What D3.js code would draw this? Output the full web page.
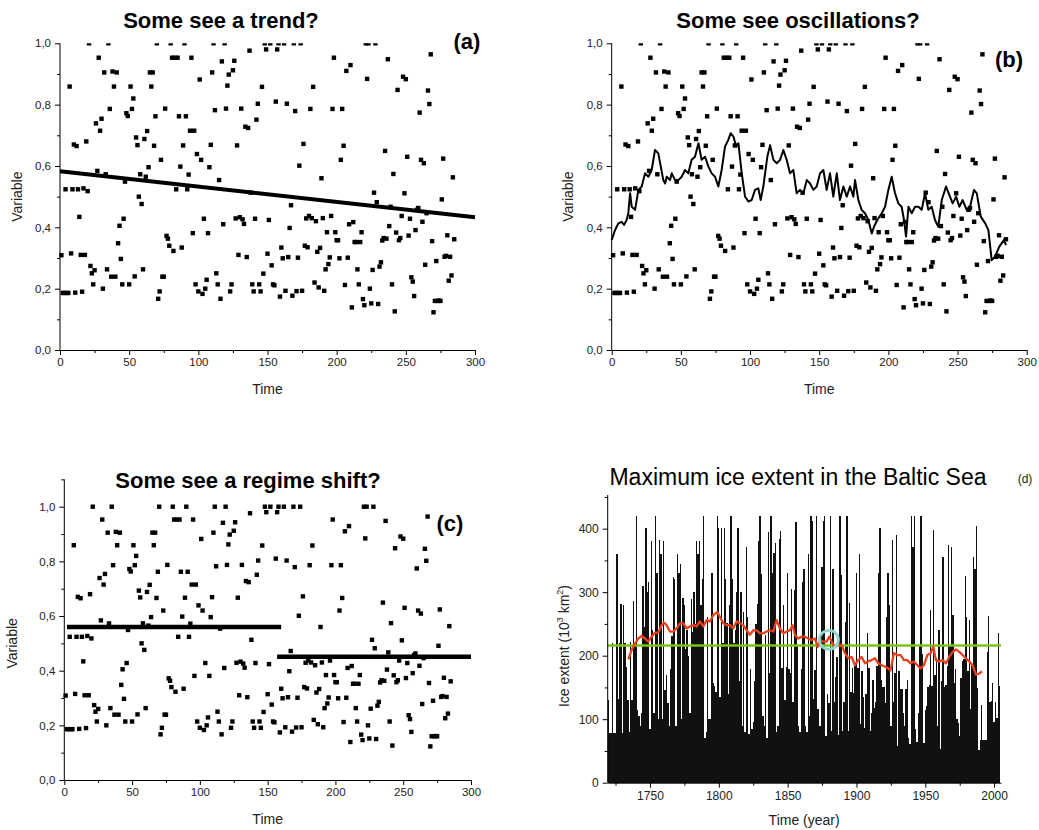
<!DOCTYPE html>
<meta charset="utf-8">
<html>
<head>
<script src="https://d3js.org/d3.v7.min.js"></script>
<style>
  body { margin: 0; background: #fff; }
  text { font-family: "Liberation Sans", Arial, sans-serif; }
</style>
</head>
<body>
<script>
// Normalised series (time step 1..285).
// The same record is the Baltic ice extent (d), scaled by its cap of 420.
var values = [
  .309,.186,.186,.524,.186,.186,.859,.315,.524,.67, .187,.665,.524,.434,.31, .19, .527,.31, .68, .518,
  1.0, .274,.25, .214,.26, .739,.584,.953,.715,.754,.2,  .905,.573,.263,1.0, .786,.239,.908,.859,.239,
  .905,.348,.405,.297,.214,.428,.549,.772,.763,.214,.859,.786,.82, .24, .693,.668,.5,  .573,.476,.263,
  .688,.565,.714,.596,.905,.859,.905,.666,.762,1.0, .167,.191,.62, .239,.239,.787,.372,.363,.34, 1.0,
  .953,.323,.953,.524,.953,.762,.598,.334,.667,1.0, .762,.524,.572,.715,.953,.381,.715,.214,.639,.191,
  .882,.62, .183,.428,.2,  .229,.381,.596,.669,.905,1.0, .782,.25, .214,.554,.167,.941,.41, 1.0, .787,
  .862,.898,.191,.214,.912,.943,.429,.667,.31, .433,.787,.426,.411,.728,.303,.724,.976,.513,.214,.191,
  .428,.751,.803,.214,.191,.858,.249,1.0, .98, .314,.424,1.0, .276,.214,.211,.81, .98, 1.0, .174,.334,
  .299,1.0, .193,.803,.303,.398,.472,.177,1.0, .779,.192,.301,.601,1.0, .193,.672,.34, .429,.335,.437,
  .786,.43, .858,.22, .42, .32, .204,.333,.56, .43, .193,.263,.384,.28, .302,.437,.786,.953,.384,.358,
  .358,.299,.62, .786,.666,.212,.91, .301,.41, .929,.139,.417,.352,.352,.263,.214,.352,.384,.166,.146,
  1.0, .884,1.0, .2,  .152,.261,.513,1.0, .482,.15, .272,.286,.357,.365,.649,.363,.948,.404,.467,.214,
  .574,.126,.383,.848,.358,.365,.437,.891,.511,.883,.63, .373,.428,.237,.223,.176,.391,.457,.463,.774,
  .62, .418,.609,.278,.446,.846,.802,.964,.355,.123,.16, .29, .16, .161,.16, .491,.624,.304,.307,.374,
  .226,.304,.243,.563,.361
];
var firstYear = 1720;
var iceCap = 420;

// (a) linear trend end points
var trendT = [0, 300];
var trendV = [0.583, 0.433];

// (b) smoothed curve
var smoothT = [0,2.4,3.6,4.8,7.2,8.9,10.8,12,13.3,14.5,16.9,19.3,21.7,24.1,26.5,28.9,31.3,33.7,37.3,38.6,
  39.8,42.2,43.4,45.8,48.2,50.6,53,55.4,57.8,60.2,62.7,65,67.5,69.9,72.3,74.7,77.1,79.5,81.9,84.3,
  86,88,90,91.6,94,96.4,98.8,101.2,103.6,106,107.7,109.6,112.5,114.5,116.9,119.3,121.7,124.1,126.5,128.9,
  131.3,133.7,136.1,138.6,141,143.4,145.8,148.2,150.6,153,155.4,157.8,160.2,162.7,165,167.5,169.9,172.3,174.7,175.9,
  178.3,180.7,183.1,185.5,188,189.6,192,195.2,197.6,200,202.4,204.8,207.2,209.6,211.3,212.8,214.5,216.9,219.3,221.7,
  224.1,226.5,228.9,231.3,233.7,236.1,238.6,241.7,244.1,246.5,249,251.3,253.7,256.6,259,261.9,263.9,266.8,270,272.3,
  274.7,277.1,280.2,283.6,285];
var smoothV = [.359,.391,.402,.413,.418,.408,.424,.446,.511,.467,.457,.522,.533,.576,.565,.587,.652,.641,.554,.543,
  .565,.554,.576,.554,.554,.565,.587,.576,.62,.63,.674,.62,.63,.598,.576,.565,.533,.587,.663,.685,
  .707,.696,.663,.674,.576,.5,.484,.489,.522,.527,.489,.533,.63,.668,.62,.609,.62,.652,.62,.576,
  .587,.511,.522,.511,.554,.543,.522,.533,.576,.587,.522,.576,.5,.576,.489,.533,.5,.533,.5,.554,
  .489,.457,.446,.424,.38,.402,.424,.446,.467,.522,.565,.511,.478,.467,.424,.37,.467,.446,.467,.467,
  .457,.511,.457,.467,.424,.402,.489,.533,.505,.478,.5,.467,.489,.457,.467,.522,.511,.435,.413,.391,
  .293,.304,.337,.359,.342];

// (c) regime means
var regimeT = [[2, 160], [157, 300]];
var regimeV = [0.56, 0.451];

// (d) 30-year running mean and long-term mean
var runYears = [1734.3,1736.7,1739.1,1741.5,1744,1746.4,1748.8,1751.2,1753.6,1756,1758.5,1760.2,1762.1,1764.5,1766.9,1769.4,1771.8,1774.2,1776.6,1779.1,
  1781.5,1783.9,1786.3,1788.7,1791.2,1793.6,1796,1798.9,1800.8,1803.3,1805.7,1808.1,1810.5,1812.9,1815.4,1817.8,1820.2,1822.6,1825.1,1827.5,
  1829.9,1832.3,1834.7,1837.2,1839.6,1842,1844.4,1846.9,1849.3,1851.7,1853.6,1855.3,1857.7,1860.2,1862.6,1865,1867.4,1869.9,1871.8,1873.5,
  1875.9,1878.3,1880.3,1882,1883.9,1886.8,1889.2,1891.6,1894.1,1896.5,1898.9,1901.3,1903.8,1906.2,1908.6,1911,1913.4,1915.9,1918.3,1920.7,
  1923.1,1924.8,1927.2,1929.7,1932.1,1934.5,1936.9,1939.3,1941.8,1944.2,1946.6,1949,1951.5,1953.9,1955.8,1957.7,1960.2,1962.6,1965,1967.4,
  1969.9,1972.3,1974.7,1977.1,1979.5,1982,1984.4,1986.8,1989.2,1991.2];
var runValues = [194,209,219,227,231,227,222,230,236,236,248,252,248,238,238,243,251,251,243,246,
  248,246,254,246,256,254,264,269,261,251,248,248,243,254,251,248,240,233,240,240,
  235,235,238,240,238,256,243,235,238,240,248,233,227,230,230,227,225,227,214,225,
  222,222,230,222,214,217,217,204,196,198,185,193,198,188,191,193,196,188,185,183,
  180,177,204,201,201,193,193,188,191,185,180,185,201,204,214,193,191,193,188,198,
  206,210,206,201,196,191,185,170,172,175];
var meanIce = 216;
var markYear = 1880, markValue = 225;

var width = 1039, height = 830;
var svg = d3.select("body").append("svg")
    .attr("width", width)
    .attr("height", height);

function commaFmt(d) { return d3.format(".1f")(d).replace(".", ","); }

var points = values.map(function(v, i) { return {t: i + 1, v: v}; });

// scatter panels a, b, c
function scatterPanel(p) {
    var x = d3.scaleLinear().domain([0, 300]).range([p.left, p.right]);
    var y = d3.scaleLinear().domain([0, 1]).range([p.bottom, p.top1]);
    var g = svg.append("g");

    var clipId = "clip" + p.id;
    svg.append("clipPath").attr("id", clipId)
      .append("rect")
        .attr("x", p.left - 4).attr("y", y(p.yMax))
        .attr("width", p.right - p.left + 8).attr("height", p.bottom - y(p.yMax) + 4);

    var majorY = [0, 0.2, 0.4, 0.6, 0.8, 1.0];
    var minorY = p.yMax > 1 ? [0.1, 0.3, 0.5, 0.7, 0.9, 1.1] : [0.1, 0.3, 0.5, 0.7, 0.9];

    var ya = g.append("g")
        .attr("transform", "translate(" + p.left + ",0)")
        .call(d3.axisLeft(y).tickValues(majorY).tickSize(5).tickSizeOuter(0).tickPadding(4).tickFormat(commaFmt));
    ya.select(".domain").attr("d", "M0," + p.bottom + "V" + y(p.yMax));
    g.append("g")
        .attr("transform", "translate(" + p.left + ",0)")
        .call(d3.axisLeft(y).tickValues(minorY).tickSize(3).tickFormat(""))
        .select(".domain").remove();

    g.append("g")
        .attr("transform", "translate(0," + p.bottom + ")")
        .call(d3.axisBottom(x).tickValues(d3.range(0, 301, 50)).tickSize(5).tickSizeOuter(0).tickPadding(3));
    g.append("g")
        .attr("transform", "translate(0," + p.bottom + ")")
        .call(d3.axisBottom(x).tickValues(d3.range(25, 300, 50)).tickSize(3).tickFormat(""))
        .select(".domain").remove();

    g.selectAll(".tick text").attr("font-size", 11.5).attr("fill", "#222")
        .style("font-family", "'Liberation Sans', Arial, sans-serif");

    var plot = g.append("g").attr("clip-path", "url(#" + clipId + ")");
    plot.selectAll("rect.pt")
        .data(points)
        .join("rect")
          .attr("class", "pt")
          .attr("x", function(d) { return x(d.t) - 2.2; })
          .attr("y", function(d) { return y(d.v) - 2.2; })
          .attr("width", 4.4)
          .attr("height", 4.4)
          .attr("fill", "#000");

    g.append("text")
        .attr("x", p.titleX).attr("y", p.titleY)
        .attr("text-anchor", "middle")
        .attr("font-size", 22).attr("font-weight", "bold")
        .text(p.title);
    g.append("text")
        .attr("x", p.tagX).attr("y", p.tagY)
        .attr("text-anchor", "middle")
        .attr("font-size", 22).attr("font-weight", "bold")
        .text(p.tag);
    g.append("text")
        .attr("transform", "translate(" + p.ylabX + "," + (p.bottom + y(1)) / 2 + ") rotate(-90)")
        .attr("text-anchor", "middle")
        .attr("font-size", 14).attr("fill", "#222")
        .text("Variable");
    g.append("text")
        .attr("x", (p.left + p.right) / 2).attr("y", p.xlabY)
        .attr("text-anchor", "middle")
        .attr("font-size", 14).attr("fill", "#222")
        .text("Time");

    return {g: plot, x: x, y: y};
}

var pa = scatterPanel({id: "a", left: 60, right: 475, bottom: 350, top1: 43.3, yMax: 1,
    title: "Some see a trend?", titleX: 221, titleY: 28, tag: "(a)", tagX: 467, tagY: 49,
    ylabX: 22, xlabY: 394});
pa.g.append("line")
    .attr("x1", pa.x(trendT[0])).attr("y1", pa.y(trendV[0]))
    .attr("x2", pa.x(trendT[1])).attr("y2", pa.y(trendV[1]))
    .attr("stroke", "#000").attr("stroke-width", 4);

var pb = scatterPanel({id: "b", left: 611.7, right: 1026.7, bottom: 350, top1: 43.3, yMax: 1,
    title: "Some see oscillations?", titleX: 798, titleY: 28, tag: "(b)", tagX: 1009, tagY: 67,
    ylabX: 573, xlabY: 394});
pb.g.append("path")
    .datum(d3.range(smoothT.length))
    .attr("fill", "none")
    .attr("stroke", "#000")
    .attr("stroke-width", 2)
    .attr("stroke-linejoin", "round")
    .attr("d", d3.line()
        .x(function(i) { return pb.x(smoothT[i]); })
        .y(function(i) { return pb.y(smoothV[i]); }));

var pc = scatterPanel({id: "c", left: 64.3, right: 471, bottom: 780, top1: 506.7, yMax: 1.1,
    title: "Some see a regime shift?", titleX: 248, titleY: 488, tag: "(c)", tagX: 450, tagY: 531,
    ylabX: 17, xlabY: 824});
regimeT.forEach(function(seg, i) {
    pc.g.append("line")
        .attr("x1", pc.x(seg[0])).attr("y1", pc.y(regimeV[i]))
        .attr("x2", pc.x(seg[1])).attr("y2", pc.y(regimeV[i]))
        .attr("stroke", "#000").attr("stroke-width", 4.5);
});

// panel d: ice extent bars
var xd = d3.scaleLinear().domain([1719.3, 2005]).range([607.7, 1001]);
var yd = d3.scaleLinear().domain([0, 453]).range([782.7, 495]);
var gd = svg.append("g");

var step = xd(1) - xd(0);
gd.selectAll("rect.bar")
    .data(points)
    .join("rect")
      .attr("class", "bar")
      .attr("x", function(d) { return xd(firstYear + d.t - 1) - step / 2; })
      .attr("y", function(d) { return yd(d.v * iceCap); })
      .attr("width", step)
      .attr("height", function(d) { return yd(0) - yd(d.v * iceCap); })
      .attr("fill", "#111")
      .attr("shape-rendering", "crispEdges");

gd.append("line")
    .attr("x1", xd(1719.3)).attr("x2", xd(2005))
    .attr("y1", yd(meanIce)).attr("y2", yd(meanIce))
    .attr("stroke", "#7cc314").attr("stroke-width", 2.5);

gd.append("path")
    .datum(d3.range(runYears.length))
    .attr("fill", "none")
    .attr("stroke", "#e8401c")
    .attr("stroke-width", 2.3)
    .attr("stroke-linejoin", "round")
    .attr("d", d3.line()
        .x(function(i) { return xd(runYears[i]); })
        .y(function(i) { return yd(runValues[i]); }));

gd.append("circle")
    .attr("cx", xd(markYear)).attr("cy", yd(markValue))
    .attr("r", 9.5)
    .attr("fill", "none")
    .attr("stroke", "#8fd3cf")
    .attr("stroke-width", 2.8);

var yda = gd.append("g")
    .attr("transform", "translate(607.7,0)")
    .call(d3.axisLeft(yd).tickValues(d3.range(0, 401, 100)).tickSize(5).tickSizeOuter(0).tickPadding(4));
yda.select(".domain").attr("d", "M0," + yd(0) + "V" + yd(453));
gd.append("g")
    .attr("transform", "translate(607.7,0)")
    .call(d3.axisLeft(yd).tickValues(d3.range(50, 451, 100)).tickSize(3).tickFormat(""))
    .select(".domain").remove();
gd.append("g")
    .attr("transform", "translate(0," + yd(0) + ")")
    .call(d3.axisBottom(xd).tickValues(d3.range(1750, 2001, 50)).tickSize(5).tickSizeOuter(0).tickPadding(4)
        .tickFormat(d3.format("d")));
gd.append("g")
    .attr("transform", "translate(0," + yd(0) + ")")
    .call(d3.axisBottom(xd).tickValues(d3.range(1725, 2001, 50)).tickSize(3).tickFormat(""))
    .select(".domain").remove();
gd.selectAll(".tick text").attr("font-size", 12).attr("fill", "#222")
    .style("font-family", "'Liberation Sans', Arial, sans-serif");

gd.append("text")
    .attr("x", 798).attr("y", 485)
    .attr("text-anchor", "middle")
    .attr("font-size", 23)
    .text("Maximum ice extent in the Baltic Sea");
gd.append("text")
    .attr("x", 1025).attr("y", 483)
    .attr("text-anchor", "middle")
    .attr("font-size", 12).attr("fill", "#222")
    .text("(d)");
gd.append("text")
    .attr("x", xd(1862)).attr("y", 825)
    .attr("text-anchor", "middle")
    .attr("font-size", 14).attr("fill", "#222")
    .text("Time (year)");

var ylab = gd.append("text")
    .attr("transform", "translate(569,646) rotate(-90)")
    .attr("text-anchor", "middle")
    .attr("font-size", 14).attr("fill", "#222");
ylab.append("tspan").text("Ice extent (10");
ylab.append("tspan").attr("dy", -6).attr("font-size", 9).text("3");
ylab.append("tspan").attr("dy", 6).text(" km");
ylab.append("tspan").attr("dy", -6).attr("font-size", 9).text("2");
ylab.append("tspan").attr("dy", 6).text(")");
</script>
</body>
</html>
